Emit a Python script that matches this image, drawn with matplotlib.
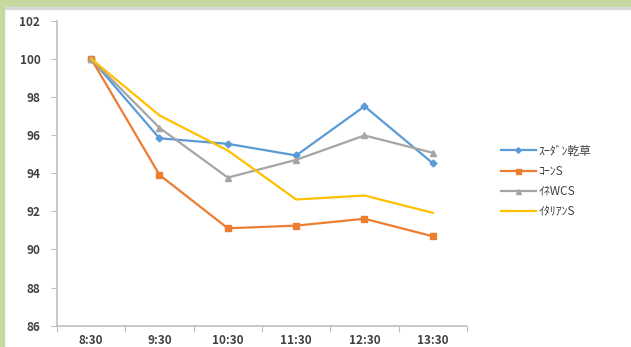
import matplotlib.pyplot as plt
from matplotlib.patches import Rectangle

plt.rcParams['font.family'] = ['Noto Sans CJK JP', 'DejaVu Sans']

# データ
times = ['8:30', '9:30', '10:30', '11:30', '12:30', '13:30']
sudan = [100, 95.83, 95.54, 94.93, 97.51, 94.52]
corn = [100, 93.91, 91.11, 91.25, 91.61, 90.69]
ine = [100, 96.38, 93.77, 94.70, 95.98, 95.07]
italian = [100, 97.03, 95.19, 92.62, 92.83, 91.92]
labels = ['ｽｰﾀﾞﾝ乾草', 'ｺｰﾝS', 'ｲﾈWCS', 'ｲﾀﾘｱﾝS']

fig = plt.figure(figsize=(6.31, 3.47), dpi=100)
ax = fig.add_axes([57/631, 1 - 325.7/347, 410/631, 305/347])

x = list(range(len(times)))
ax.plot(x, sudan, color='#5B9BD5', lw=1.6, marker='D', ms=3.5, label=labels[0])
ax.plot(x, corn, color='#ED7D31', lw=1.6, marker='s', ms=4.5, label=labels[1])
ax.plot(x, ine, color='#A5A5A5', lw=1.6, marker='^', ms=4.5, label=labels[2])
ax.plot(x, italian, color='#FFC000', lw=1.6, label=labels[3])

ax.set_xlim(-0.5, len(times) - 0.5)
ax.set_ylim(86, 102)
ax.set_yticks(range(86, 103, 2))
ax.set_xticks([i - 0.5 for i in range(len(times) + 1)])
ax.set_xticklabels([])
ax.set_xticks(x, minor=True)
ax.set_xticklabels(times, minor=True)
ax.tick_params(axis='x', which='minor', length=0, pad=6)
ax.tick_params(axis='x', which='major', length=4, color='#BFBFBF')
ax.tick_params(axis='y', length=4, color='#BFBFBF', pad=8)
for lab in ax.get_yticklabels() + ax.get_xticklabels(minor=True):
    lab.set_fontsize(8.5)
    lab.set_color('#404040')
    lab.set_fontweight('bold')

for s in ['top', 'right']:
    ax.spines[s].set_visible(False)
for s in ['left', 'bottom']:
    ax.spines[s].set_color('#BFBFBF')
    ax.spines[s].set_linewidth(1.2)

leg = fig.legend(loc='upper left', bbox_to_anchor=(490/631, 1 - 134/347),
                 frameon=False, fontsize=8.5, handlelength=3.0,
                 labelspacing=0.6, handletextpad=0.2, markerscale=0.8)
for t in leg.get_texts():
    t.set_color('#404040')

# 上と左の緑の枠
fig.patches.append(Rectangle((0, 1 - 7/347), 1, 7/347, transform=fig.transFigure,
                             color='#C6D9A0', zorder=10))
fig.patches.append(Rectangle((0, 1 - 9/347), 1, 2/347, transform=fig.transFigure,
                             color='#D9D9D9', zorder=10))
fig.patches.append(Rectangle((0, 0), 4/631, 1, transform=fig.transFigure,
                             color='#C6D9A0', zorder=10))

fig.savefig('out.png', dpi=100)
